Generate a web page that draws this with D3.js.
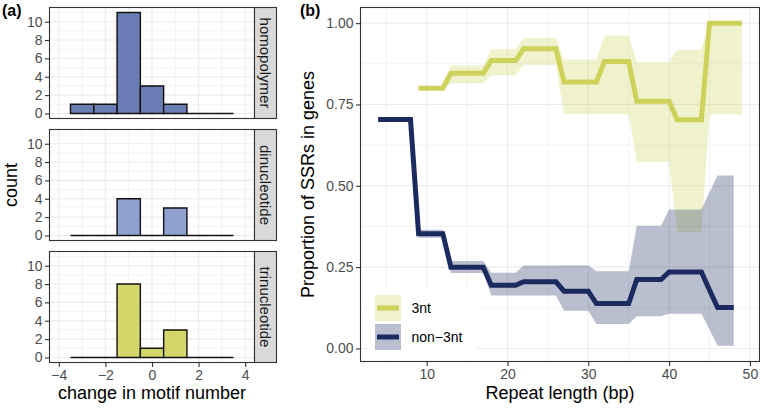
<!DOCTYPE html>
<html>
<head>
<meta charset="utf-8">
<script src="https://cdn.jsdelivr.net/npm/d3@7"></script>
<style>
  body { margin: 0; background: #fff; }
  svg { font-family: "Liberation Sans", Arial, sans-serif; }
</style>
</head>
<body>
<div class="container"></div>
<script>
// Size of the picture
const width = 760;
const height = 411;

// ---- data: panel (a), histogram of change in motif number ----
const binMid = [-3, -2, -1, 0, 1, 2, 3];
const facetNames = ["homopolymer", "dinucleotide", "trinucleotide"];
const homoCounts = [1, 1, 11, 3, 1, 0, 0];
const diCounts = [0, 0, 4, 0, 3, 0, 0];
const triCounts = [0, 0, 8, 1, 3, 0, 0];
const facetFill = ["#6b7db5", "#8fa2cf", "#d4d66a"];

// ---- data: panel (b), proportion of SSRs in genes ----
const len3nt = [9, 10, 11, 12, 13, 14, 15, 16, 17, 18, 19, 20, 21, 22, 23, 24, 25, 26, 27, 28, 29,
  30, 31, 32, 33, 34, 35, 36, 37, 38, 39, 40, 41, 42, 43, 44, 45, 46, 47, 48, 49];
const prop3nt = [0.80, 0.80, 0.80, 0.80, 0.846, 0.846, 0.846, 0.846, 0.846, 0.885, 0.885, 0.885, 0.885,
  0.921, 0.921, 0.921, 0.921, 0.921, 0.819, 0.819, 0.819, 0.819, 0.819, 0.882, 0.882, 0.882, 0.882,
  0.760, 0.760, 0.760, 0.760, 0.760, 0.703, 0.703, 0.703, 0.703, 1.0, 1.0, 1.0, 1.0, 1.0];
const lo3nt = [0.795, 0.795, 0.795, 0.795, 0.815, 0.815, 0.815, 0.815, 0.815, 0.84, 0.84, 0.84, 0.84,
  0.872, 0.872, 0.872, 0.872, 0.872, 0.72, 0.72, 0.72, 0.72, 0.72, 0.72, 0.72, 0.72, 0.72,
  0.573, 0.573, 0.573, 0.573, 0.573, 0.358, 0.358, 0.358, 0.358, 0.719, 0.719, 0.719, 0.719, 0.719];
const hi3nt = [0.805, 0.805, 0.805, 0.805, 0.87, 0.87, 0.87, 0.87, 0.87, 0.92, 0.92, 0.92, 0.92,
  0.955, 0.955, 0.955, 0.955, 0.955, 0.888, 0.888, 0.888, 0.888, 0.888, 0.962, 0.962, 0.962, 0.962,
  0.88, 0.88, 0.88, 0.88, 0.88, 0.918, 0.918, 0.918, 0.918, 1.0, 1.0, 1.0, 1.0, 1.0];

const lenNon = [4, 5, 6, 7, 8, 9, 10, 11, 12, 13, 14, 15, 16, 17, 18, 19, 20, 21, 22, 23, 24, 25, 26,
  27, 28, 29, 30, 31, 32, 33, 34, 35, 36, 37, 38, 39, 40, 41, 42, 43, 44, 45, 46, 47, 48];
const propNon = [0.704, 0.704, 0.704, 0.704, 0.704, 0.353, 0.353, 0.353, 0.353, 0.25, 0.25, 0.25, 0.25, 0.25,
  0.194, 0.194, 0.194, 0.194, 0.205, 0.205, 0.205, 0.205, 0.205, 0.176, 0.176, 0.176, 0.176,
  0.138, 0.138, 0.138, 0.138, 0.138, 0.212, 0.212, 0.212, 0.212, 0.235, 0.235, 0.235, 0.235, 0.235,
  0.18, 0.126, 0.126, 0.126];
const loNon = [0.699, 0.699, 0.699, 0.699, 0.699, 0.34, 0.34, 0.34, 0.34, 0.232, 0.232, 0.232, 0.232, 0.232,
  0.163, 0.163, 0.163, 0.163, 0.163, 0.163, 0.163, 0.163, 0.163, 0.116, 0.116, 0.116, 0.116,
  0.075, 0.075, 0.075, 0.075, 0.075, 0.099, 0.099, 0.099, 0.099, 0.107, 0.107, 0.107, 0.107, 0.107,
  0.058, 0.008, 0.008, 0.008];
const hiNon = [0.709, 0.709, 0.709, 0.709, 0.709, 0.365, 0.365, 0.365, 0.365, 0.269, 0.269, 0.269, 0.269, 0.269,
  0.233, 0.233, 0.233, 0.233, 0.255, 0.255, 0.255, 0.255, 0.255, 0.256, 0.256, 0.256, 0.256,
  0.237, 0.237, 0.237, 0.237, 0.237, 0.377, 0.377, 0.377, 0.377, 0.427, 0.427, 0.427, 0.427, 0.427,
  0.48, 0.532, 0.532, 0.532];

const seriesNames = ["3nt", "non\u22123nt"];
const lineColor = ["#cdd35a", "#1c2b5f"];

const gridCol = "#ebebeb";
const borderCol = "#333333";
const tickText = "#4d4d4d";

const svg = d3.select(".container").append("svg")
    .attr("width", width)
    .attr("height", height);

// ================= panel (a) =================
const xA = d3.scaleLinear().domain([-4.4, 4.4]).range([49.5, 254.5]);
const facetTop = [7.5, 129.5, 251.5];
const facetH = 111;
const allCounts = [homoCounts, diCounts, triCounts];

facetNames.forEach(function(name, i) {
  const y = d3.scaleLinear().domain([-0.55, 11.55]).range([facetTop[i] + facetH, facetTop[i]]);
  const g = svg.append("g");

  // grid lines (minor then major)
  g.selectAll(".vminor").data([-3, -1, 1, 3]).enter().append("line")
    .attr("x1", d => xA(d)).attr("x2", d => xA(d))
    .attr("y1", facetTop[i]).attr("y2", facetTop[i] + facetH)
    .attr("stroke", gridCol).attr("stroke-width", 0.6);
  g.selectAll(".hminor").data([1, 3, 5, 7, 9, 11]).enter().append("line")
    .attr("x1", xA.range()[0]).attr("x2", xA.range()[1])
    .attr("y1", d => y(d)).attr("y2", d => y(d))
    .attr("stroke", gridCol).attr("stroke-width", 0.6);
  g.selectAll(".vmajor").data([-4, -2, 0, 2, 4]).enter().append("line")
    .attr("x1", d => xA(d)).attr("x2", d => xA(d))
    .attr("y1", facetTop[i]).attr("y2", facetTop[i] + facetH)
    .attr("stroke", gridCol).attr("stroke-width", 1.1);
  g.selectAll(".hmajor").data([0, 2, 4, 6, 8, 10]).enter().append("line")
    .attr("x1", xA.range()[0]).attr("x2", xA.range()[1])
    .attr("y1", d => y(d)).attr("y2", d => y(d))
    .attr("stroke", gridCol).attr("stroke-width", 1.1);

  // histogram bars, drawn as paths so empty bins still show as a line on 0
  g.selectAll(".bar").data(binMid.map((m, k) => ({ m: m, c: allCounts[i][k] })))
    .enter().append("path")
    .attr("d", d => "M" + xA(d.m - 0.5) + "," + y(0) + "V" + y(d.c) +
      "H" + xA(d.m + 0.5) + "V" + y(0) + "Z")
    .attr("fill", facetFill[i])
    .attr("stroke", "#111")
    .attr("stroke-width", 1.4)
    .attr("stroke-linejoin", "miter");

  // panel border
  g.append("rect")
    .attr("x", xA.range()[0]).attr("y", facetTop[i])
    .attr("width", xA.range()[1] - xA.range()[0]).attr("height", facetH)
    .attr("fill", "none").attr("stroke", borderCol).attr("stroke-width", 1.1);

  // strip on the right
  g.append("rect")
    .attr("x", xA.range()[1]).attr("y", facetTop[i])
    .attr("width", 22).attr("height", facetH)
    .attr("fill", "#d9d9d9").attr("stroke", borderCol).attr("stroke-width", 1.1);
  g.append("text")
    .attr("transform", "translate(" + (xA.range()[1] + 11) + "," + (facetTop[i] + facetH / 2) + ") rotate(90)")
    .attr("text-anchor", "middle").attr("dy", "0.35em")
    .attr("font-size", 15).attr("fill", "#1a1a1a")
    .text(name);

  // y axis
  const ay = g.append("g")
    .attr("transform", "translate(" + xA.range()[0] + ",0)")
    .call(d3.axisLeft(y).tickValues([0, 2, 4, 6, 8, 10]).tickSize(4.5).tickPadding(2.5));
  ay.select(".domain").remove();
  ay.selectAll("line").attr("stroke", borderCol).attr("stroke-width", 1.1);
  ay.selectAll("text").attr("font-size", 14).attr("fill", tickText).attr("font-family", null);

  if (i === 2) {
    const ax = g.append("g")
      .attr("transform", "translate(0," + (facetTop[i] + facetH) + ")")
      .call(d3.axisBottom(xA).tickValues([-4, -2, 0, 2, 4]).tickSize(4.5).tickPadding(3));
    ax.select(".domain").remove();
    ax.selectAll("line").attr("stroke", borderCol).attr("stroke-width", 1.1);
    ax.selectAll("text").attr("font-size", 14).attr("fill", tickText).attr("font-family", null);
  }
});

svg.append("text")
  .attr("x", d3.mean(xA.range())).attr("y", 399)
  .attr("text-anchor", "middle").attr("font-size", 18).attr("fill", "#000")
  .text("change in motif number");
svg.append("text")
  .attr("transform", "translate(17,185) rotate(-90)")
  .attr("text-anchor", "middle").attr("font-size", 18).attr("fill", "#000")
  .text("count");
svg.append("text")
  .attr("x", 2).attr("y", 16)
  .attr("font-size", 16).attr("font-weight", "bold")
  .text("(a)");

// ================= panel (b) =================
const xB = d3.scaleLinear().domain([1.75, 51.25]).range([360, 760]);
const yB = d3.scaleLinear().domain([-0.0416, 1.0496]).range([362, 7]);
const bLeft = 360.5, bRight = 759.5, bTop = 7.5, bBottom = 361.5;

const gb = svg.append("g");
gb.selectAll(".vminor").data([5, 15, 25, 35, 45]).enter().append("line")
  .attr("x1", d => xB(d)).attr("x2", d => xB(d)).attr("y1", bTop).attr("y2", bBottom)
  .attr("stroke", gridCol).attr("stroke-width", 0.6);
gb.selectAll(".hminor").data([0.125, 0.375, 0.625, 0.875]).enter().append("line")
  .attr("x1", bLeft).attr("x2", bRight).attr("y1", d => yB(d)).attr("y2", d => yB(d))
  .attr("stroke", gridCol).attr("stroke-width", 0.6);
gb.selectAll(".vmajor").data([10, 20, 30, 40, 50]).enter().append("line")
  .attr("x1", d => xB(d)).attr("x2", d => xB(d)).attr("y1", bTop).attr("y2", bBottom)
  .attr("stroke", gridCol).attr("stroke-width", 1.1);
gb.selectAll(".hmajor").data([0, 0.25, 0.5, 0.75, 1]).enter().append("line")
  .attr("x1", bLeft).attr("x2", bRight).attr("y1", d => yB(d)).attr("y2", d => yB(d))
  .attr("stroke", gridCol).attr("stroke-width", 1.1);

const series = [
  { x: len3nt, y: prop3nt, lo: lo3nt, hi: hi3nt },
  { x: lenNon, y: propNon, lo: loNon, hi: hiNon }
];

const area = d3.area()
  .x(d => xB(d.x)).y0(d => yB(d.lo)).y1(d => yB(d.hi));
const line = d3.line()
  .x(d => xB(d.x)).y(d => yB(d.y));

const pts = series.map(s => s.x.map((x, k) => ({ x: x, y: s.y[k], lo: s.lo[k], hi: s.hi[k] })));

pts.forEach(function(p, i) {
  gb.append("path").datum(p)
    .attr("d", area)
    .attr("fill", lineColor[i]).attr("fill-opacity", 0.3);
});
pts.forEach(function(p, i) {
  gb.append("path").datum(p)
    .attr("d", line)
    .attr("fill", "none")
    .attr("stroke", lineColor[i]).attr("stroke-width", 5)
    .attr("stroke-linejoin", "miter");
});

// legend inside the panel
const lg = gb.append("g");
lg.append("rect")
  .attr("x", 367).attr("y", 288).attr("width", 109).attr("height", 70)
  .attr("fill", "#fff");
seriesNames.forEach(function(name, i) {
  const ky = 295 + i * 29;
  lg.append("rect")
    .attr("x", 375).attr("y", ky).attr("width", 26).attr("height", 26)
    .attr("fill", lineColor[i]).attr("fill-opacity", 0.3);
  lg.append("line")
    .attr("x1", 377).attr("x2", 399).attr("y1", ky + 13).attr("y2", ky + 13)
    .attr("stroke", lineColor[i]).attr("stroke-width", 5);
  lg.append("text")
    .attr("x", 411.5).attr("y", ky + 13).attr("dy", "0.35em")
    .attr("font-size", 14).attr("fill", "#000")
    .text(name);
});

// border
gb.append("rect")
  .attr("x", bLeft).attr("y", bTop).attr("width", bRight - bLeft).attr("height", bBottom - bTop)
  .attr("fill", "none").attr("stroke", borderCol).attr("stroke-width", 1.1);

const byAxis = gb.append("g")
  .attr("transform", "translate(" + bLeft + ",0)")
  .call(d3.axisLeft(yB).tickValues([0, 0.25, 0.5, 0.75, 1]).tickFormat(d3.format(".2f")).tickSize(4.5).tickPadding(2.5));
byAxis.select(".domain").remove();
byAxis.selectAll("line").attr("stroke", borderCol).attr("stroke-width", 1.1);
byAxis.selectAll("text").attr("font-size", 14).attr("fill", tickText).attr("font-family", null);

const bxAxis = gb.append("g")
  .attr("transform", "translate(0," + bBottom + ")")
  .call(d3.axisBottom(xB).tickValues([10, 20, 30, 40, 50]).tickSize(4.5).tickPadding(3));
bxAxis.select(".domain").remove();
bxAxis.selectAll("line").attr("stroke", borderCol).attr("stroke-width", 1.1);
bxAxis.selectAll("text").attr("font-size", 14).attr("fill", tickText).attr("font-family", null);

svg.append("text")
  .attr("x", d3.mean([bLeft, bRight])).attr("y", 399)
  .attr("text-anchor", "middle").attr("font-size", 18).attr("fill", "#000")
  .text("Repeat length (bp)");
svg.append("text")
  .attr("transform", "translate(314," + d3.mean([bTop, bBottom]) + ") rotate(-90)")
  .attr("text-anchor", "middle").attr("font-size", 18).attr("fill", "#000")
  .text("Proportion of SSRs in genes");
svg.append("text")
  .attr("x", 300).attr("y", 16)
  .attr("font-size", 16).attr("font-weight", "bold")
  .text("(b)");
</script>
</body>
</html>
